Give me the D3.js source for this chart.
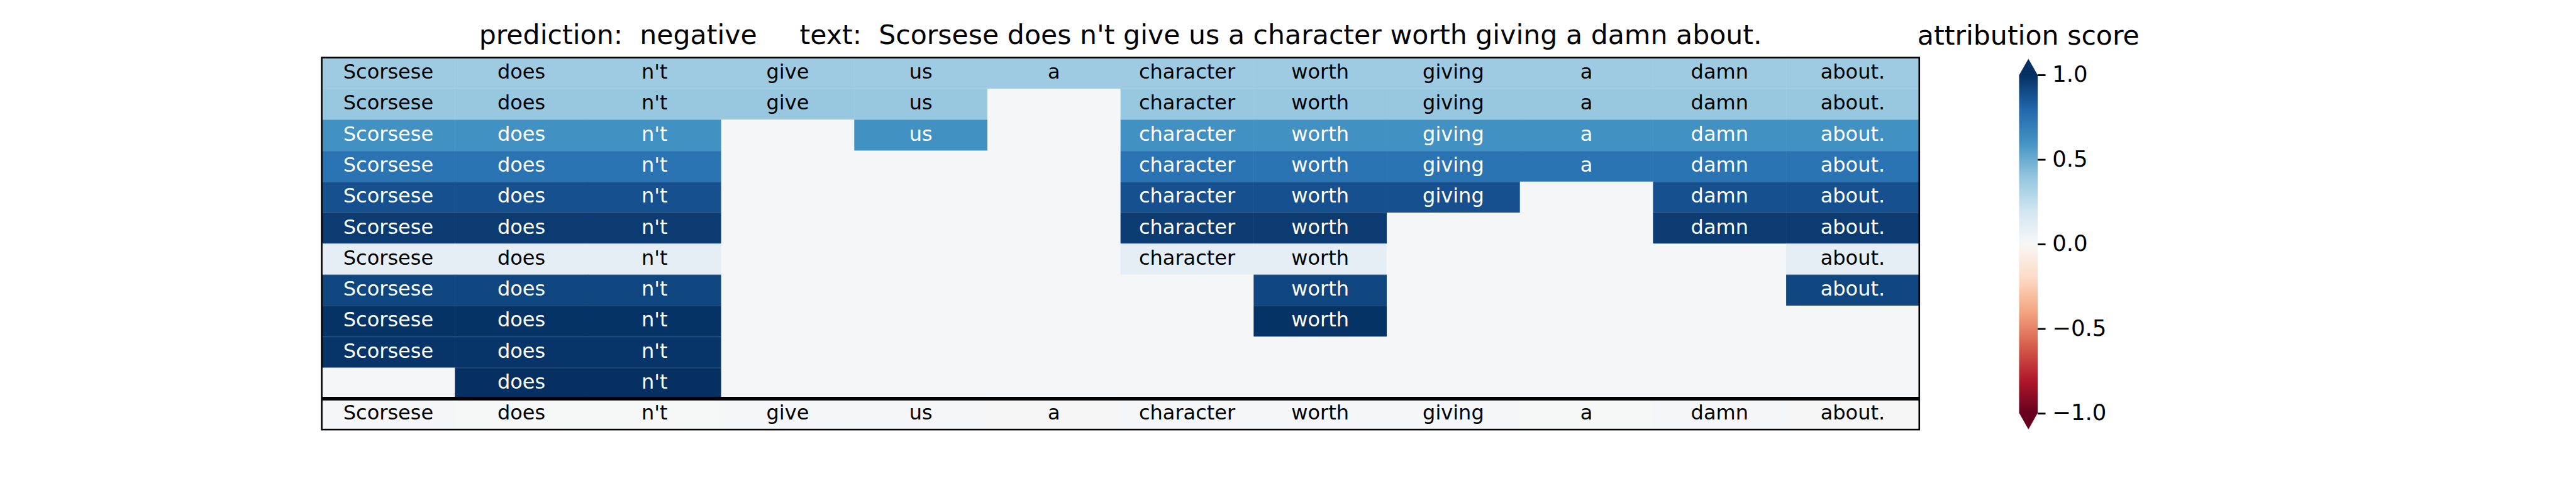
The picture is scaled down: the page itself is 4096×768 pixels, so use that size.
<!DOCTYPE html>
<html><head><meta charset="utf-8">
<script src="https://cdn.jsdelivr.net/npm/d3@7"></script>
<style>body{margin:0;background:#fff;overflow:hidden} text{font-family:"DejaVu Sans"}</style>
</head><body><svg id="c"></svg>
<script>
// ---------- data ----------
const tokens = ["Scorsese","does","n't","give","us","a","character","worth","giving","a","damn","about."];
const rowMasks = [
  [1,1,1,1,1,1,1,1,1,1,1,1],
  [1,1,1,1,1,0,1,1,1,1,1,1],
  [1,1,1,0,1,0,1,1,1,1,1,1],
  [1,1,1,0,0,0,1,1,1,1,1,1],
  [1,1,1,0,0,0,1,1,1,0,1,1],
  [1,1,1,0,0,0,1,1,0,0,1,1],
  [1,1,1,0,0,0,1,1,0,0,0,1],
  [1,1,1,0,0,0,0,1,0,0,0,1],
  [1,1,1,0,0,0,0,1,0,0,0,0],
  [1,1,1,0,0,0,0,0,0,0,0,0],
  [0,1,1,0,0,0,0,0,0,0,0,0]
];
const rowScores = [0.36, 0.38, 0.61, 0.74, 0.88, 0.96, 0.10, 0.92, 0.99, 0.98, 1.0];
const tokenScores = [0.009, 0.003, 0.004, 0.008, 0.010, 0.006, 0.009, 0.008, 0.009, 0.005, 0.009, 0.006];
const emptyScore = 0.008;
const predictionLabel = "negative";
const colorbarTicks = [-1, -0.5, 0, 0.5, 1];
const rdbuStops = [-1,-0.8,-0.6,-0.4,-0.2,0,0.2,0.4,0.6,0.8,1];
const rdbuColors = ["#67001f","#b2182b","#d6604d","#f4a582","#fddbc7","#f7f7f7","#d1e5f0","#92c5de","#4393c3","#2166ac","#053061"];

// ---------- layout ----------
const W = 4096, H = 768, s = W / 4800;
const svg = d3.select("#c").attr("width", W).attr("height", H);
const nRows = rowMasks.length + 1;

const x = d3.scaleBand().domain(d3.range(tokens.length)).range([599.5*s, 3576.3*s]);
const y = d3.scaleBand().domain(d3.range(nRows)).range([107.3*s, 800.5*s]);
const color = d3.scaleLinear().domain(rdbuStops).range(rdbuColors).interpolate(d3.interpolateRgb).clamp(true);

const cellFont = 37.5*s, titleFont = 50*s, tickFont = 41.67*s;

// cells
const cells = [];
rowMasks.forEach((mask, r) => {
  mask.forEach((m, c) => {
    cells.push({r, c, v: m ? rowScores[r] : emptyScore, label: m ? tokens[c] : ""});
  });
});
tokens.forEach((t, c) => cells.push({r: nRows-1, c, v: tokenScores[c], label: t}));

const g = svg.append("g");
g.selectAll("rect.cell").data(cells).join("rect")
  .attr("class","cell")
  .attr("x", d => x(d.c)).attr("y", d => y(d.r))
  .attr("width", x.bandwidth()+0.5).attr("height", y.bandwidth()+0.5)
  .attr("fill", d => color(d.v));

// faint row seams on coloured cells
g.selectAll("line.seam").data(cells.filter(d => d.label && d.r > 0 && d.r < nRows-1)).join("line")
  .attr("class","seam")
  .attr("x1", d => x(d.c)).attr("x2", d => x(d.c)+x.bandwidth())
  .attr("y1", d => y(d.r)+0.5).attr("y2", d => y(d.r)+0.5)
  .attr("stroke","#fff").attr("stroke-opacity",0.18).attr("stroke-width",1);

g.selectAll("text.cell").data(cells.filter(d => d.label)).join("text")
  .attr("class","cell")
  .attr("x", d => x(d.c) + x.bandwidth()/2)
  .attr("y", d => y(d.r) + y.bandwidth()/2 + 0.276*cellFont)
  .attr("text-anchor","middle")
  .attr("font-size", cellFont)
  .attr("fill", d => d.v > 0.5 ? "#fff" : "#000")
  .text(d => d.label);

// frame & separator
const x0 = x.range()[0], x1 = x.range()[1], y0 = y.range()[0], y1 = y.range()[1];
g.append("rect").attr("x", x0).attr("y", y0).attr("width", x1-x0).attr("height", y1-y0)
  .attr("fill","none").attr("stroke","#000").attr("stroke-width", 2.6);
g.append("line").attr("x1", x0).attr("x2", x1)
  .attr("y1", y(nRows-1)).attr("y2", y(nRows-1))
  .attr("stroke","#000").attr("stroke-width", 5.7);

// title
svg.append("text")
  .attr("x", (x0+x1)/2).attr("y", 82.5*s)
  .attr("text-anchor","middle").attr("font-size", titleFont)
  .style("white-space","pre")
  .text("prediction:  " + predictionLabel + "     text:  " + tokens.join(" "));

// ---------- colorbar ----------
const cbX = 3762.3*s, cbW = 34.7*s;
const cb = d3.scaleLinear().domain([-1, 1]).range([770*s, 139.5*s]);
const ext = 30*s;
const defs = svg.append("defs");
const grad = defs.append("linearGradient").attr("id","rdbu")
  .attr("gradientUnits","userSpaceOnUse")
  .attr("x1",0).attr("x2",0).attr("y1", cb(-1)).attr("y2", cb(1));
grad.selectAll("stop").data(rdbuStops).join("stop")
  .attr("offset", d => (d+1)/2).attr("stop-color", d => color(d));

svg.append("rect").attr("x", cbX).attr("y", cb(1)).attr("width", cbW).attr("height", cb(-1)-cb(1))
  .attr("fill","url(#rdbu)");
svg.append("path")
  .attr("d", `M${cbX},${cb(1)+0.5} L${cbX+cbW/2},${cb(1)-ext} L${cbX+cbW},${cb(1)+0.5} Z`)
  .attr("fill", color(1));
svg.append("path")
  .attr("d", `M${cbX},${cb(-1)-0.5} L${cbX+cbW/2},${cb(-1)+ext} L${cbX+cbW},${cb(-1)-0.5} Z`)
  .attr("fill", color(-1));

const axis = d3.axisRight(cb).tickValues(colorbarTicks)
  .tickSize(14.58*s).tickPadding(12.44*s).tickFormat(d3.format(".1f"));
const ag = svg.append("g").attr("transform", `translate(${cbX+cbW},0)`).call(axis);
ag.select(".domain").remove();
ag.selectAll(".tick line").attr("stroke","#000").attr("stroke-width", 2.84);
ag.selectAll(".tick text").attr("font-size", tickFont).attr("font-family","DejaVu Sans")
  .attr("fill","#000").attr("dy", null).attr("y", 0.3*tickFont);

svg.append("text")
  .attr("x", cbX + cbW/2).attr("y", 83*s)
  .attr("text-anchor","middle").attr("font-size", titleFont)
  .text("attribution score");
</script></body></html>
